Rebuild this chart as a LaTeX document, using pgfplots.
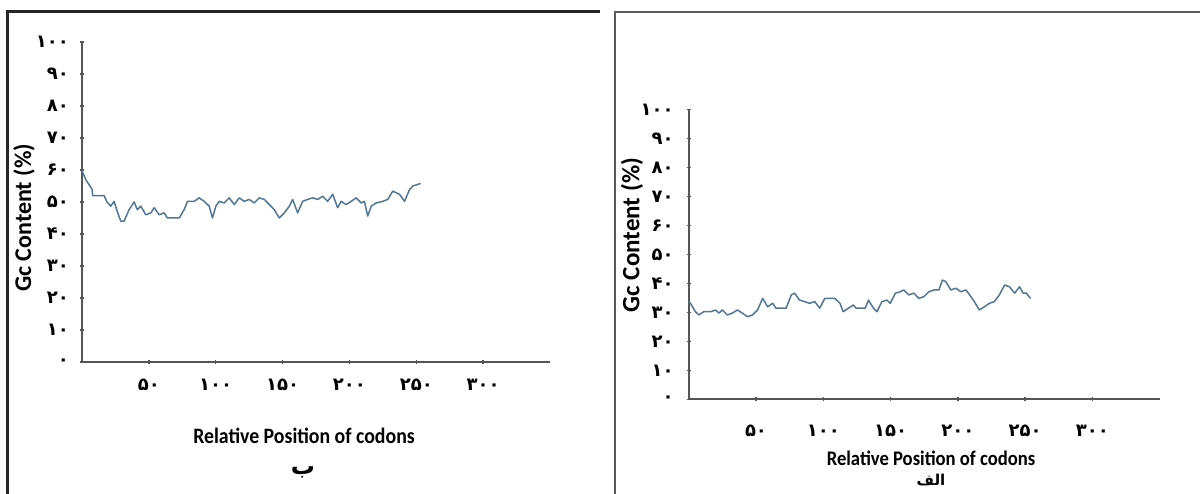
\documentclass[border=0pt]{standalone}
\usepackage{pgfplots}
\pgfplotsset{compat=1.18}
\usepackage{fontspec}
\setmainfont{Carlito}
\newfontfamily\lab{Carlito}[FakeStretch=0.9]
\newfontfamily\fa[Script=Arabic]{DejaVu Sans}
\TeXXeTstate=1
\definecolor{lineblue}{RGB}{80,120,150}
\definecolor{axgray}{RGB}{85,85,85}

\pgfplotstableread{
x y
0 59.8
2.8 57
7.5 54
8 52
16.5 52
18.7 50
21.5 48.7
24 50.2
26.4 47
29 44
31.5 44
35.2 47.6
39 50
41.4 47.6
44 48.7
47.7 46
51.5 46.6
54 48.2
57.7 46
61.4 46.6
63.9 45
72.7 45
76.4 47.6
78.9 50.2
83.9 50.2
87.6 51.3
91.4 50.2
95.1 48.7
97.6 45
100.1 48.7
102.6 50.2
106.4 49.7
110.1 51.3
113.9 49.2
117.6 51.3
121.3 50.2
125.1 50.8
128.8 49.7
132.6 51.3
136.3 50.8
140.1 49.2
143.8 47.6
147.6 45
151.3 46.6
155.1 48.7
157.5 50.8
161.3 46.6
165 50.2
168.8 50.8
172.5 51.3
176.3 50.8
180 51.8
183.7 50.2
187.5 52.4
191.2 48.2
193.8 50.2
197.5 49.2
201.3 50.2
205 51.3
208.8 49.7
211.2 50.2
213.7 45.6
216.3 48.7
220 49.7
224.9 50.2
228.7 50.8
232.4 53.4
237.5 52.4
241.2 50.2
245 53.9
247.4 55
251.2 55.5
253.2 55.8
}\dataB

\pgfplotstableread{
x y
0 33.8
1.3 33.1
5 30.2
7.5 29.1
11.2 30.2
16.3 30.2
20 30.8
22.5 29.7
25 30.8
28.7 29.1
32.4 29.7
36.2 30.8
39.9 29.7
43.7 28.5
47.4 29.1
51.2 30.8
54.9 34.8
58.7 31.9
62.4 33.1
64.9 31.4
72.4 31.4
76.2 36
78.7 36.6
82.4 34.2
86.1 33.7
89.9 33.1
93.6 33.7
97.4 31.4
101.1 34.8
108.6 34.8
112.4 33.1
114.8 30.2
118.6 31.4
122.3 32.5
124.5 31.4
127.3 31.4
131.1 31.4
133.6 34.2
137.3 31.4
139.9 30.2
143.6 33.7
147.3 34.2
149.8 33.1
153.6 36.6
157.3 37.1
159.8 37.7
163.5 36
167.3 36.6
171 34.8
174.8 35.4
178.5 37.1
182.2 37.7
186 37.7
188.5 41.1
191 40.6
194.8 37.7
198.5 38.3
202.2 37.1
206 37.7
209.7 35.4
212.2 33.7
216 30.8
219.7 31.9
223.5 33.1
227.2 33.7
230.9 36
234.7 39.4
238.4 38.8
242.2 36.6
245.9 38.8
248.5 36.6
250.9 36.6
254 34.8
}\dataA

\pgfplotsset{
  gcstyle/.style={
    scale only axis,
    axis lines=left,
    axis line style={axgray, line width=2pt, -},
    xmin=0, xmax=350, ymin=0, ymax=100,
    xtick={50,100,150,200,250,300},
    xticklabels={۵۰,۱۰۰,۱۵۰,۲۰۰,۲۵۰,۳۰۰},
    ytick={0,10,20,30,40,50,60,70,80,90,100},
    yticklabels={۰,۱۰,۲۰,۳۰,۴۰,۵۰,۶۰,۷۰,۸۰,۹۰,۱۰۰},
    tick align=center,
    major tick length=4pt,
    tick style={axgray, line width=1.5pt},
    ticklabel style={font=\fa\bfseries\fontsize{18}{18}\selectfont, inner sep=0pt, text=black},
    clip=false,
  }
}

\begin{document}
\begin{tikzpicture}
\useasboundingbox (0pt,0pt) rectangle (1200pt,494pt);
\fill[white] (0pt,0pt) rectangle (1200pt,494pt);
% frames
\draw[line width=3pt, black!85] (7pt,-5pt) -- (7pt,482pt) -- (600pt,482pt);
\draw[line width=1.8pt, black!65] (615pt,-5pt) -- (615pt,482pt) -- (1210pt,482pt);

% left panel (b)
\begin{axis}[gcstyle, at={(82pt,132pt)}, anchor=south west, width=468pt, height=320pt,
  xticklabel style={anchor=center, yshift=-21pt},
  yticklabel style={anchor=east, xshift=-11pt}]
\addplot[lineblue, line width=1.5pt, line join=round, no marks] table[x=x,y=y] {\dataB};
\end{axis}
\node[rotate=90, font=\bfseries\fontsize{24}{24}\selectfont] at (24pt,276pt) {Gc Content (\%)};
\node[font=\lab\bfseries\fontsize{22}{22}\selectfont] at (304pt,58.5pt) {Relative Position of codons};
\node[font=\fa\bfseries\fontsize{24}{24}\selectfont] at (303pt,22pt) {\beginR ب\endR};

% right panel (alef)
\begin{axis}[gcstyle, at={(688.7pt,94.7pt)}, anchor=south west, width=471pt, height=290pt,
  xticklabel style={anchor=center, yshift=-29pt},
  yticklabel style={anchor=east, xshift=-13pt}]
\addplot[lineblue, line width=1.5pt, line join=round, no marks] table[x=x,y=y] {\dataA};
\end{axis}
\node[rotate=90, font=\bfseries\fontsize{25}{25}\selectfont] at (632pt,259pt) {Gc Content (\%)};
\node[font=\lab\bfseries\fontsize{20.7}{20.7}\selectfont] at (931pt,36pt) {Relative Position of codons};
\node[font=\fa\bfseries\fontsize{15}{15}\selectfont] at (931pt,14pt) {\beginR الف\endR};
\end{tikzpicture}
\end{document}
